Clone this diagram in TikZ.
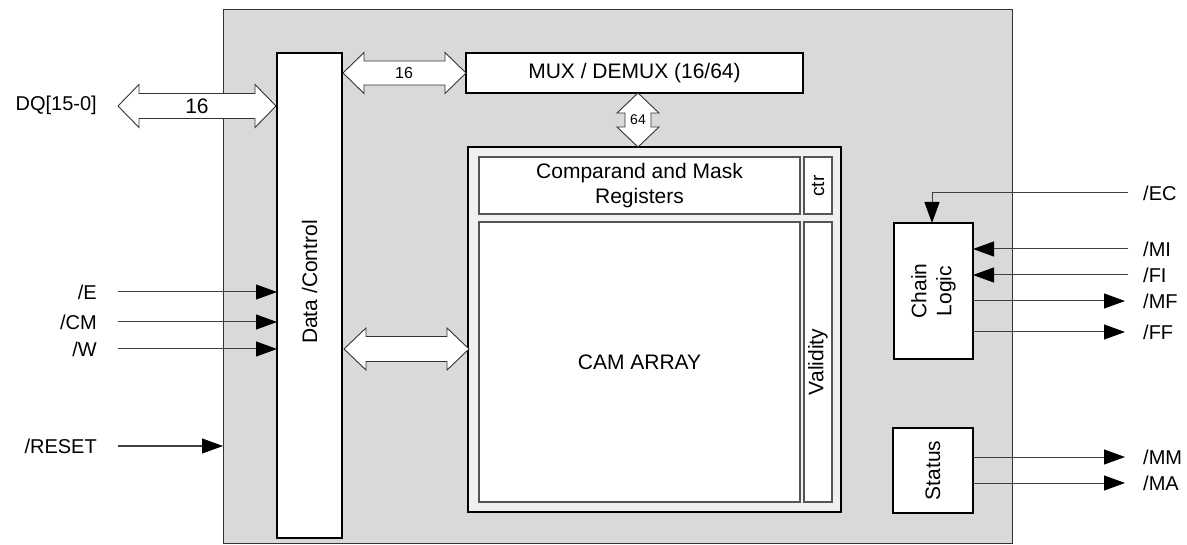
\documentclass[tikz,border=0pt]{standalone}
\usepackage{fontspec}
\setmainfont{Liberation Sans}
\usetikzlibrary{arrows.meta}
\definecolor{bggray}{HTML}{D9D9D9}
\definecolor{camfill}{HTML}{F0F0F0}
\definecolor{sigline}{HTML}{404040}
\definecolor{innerline}{HTML}{555555}
\newcommand{\harrow}[6]{% x1 x2 y shafthalf headhalf headlen
  \draw[busarrow] (#1,#3) -- (#1+#6,#3-#5) -- (#1+#6,#3-#4) -- (#2-#6,#3-#4) -- (#2-#6,#3-#5) -- (#2,#3)
    -- (#2-#6,#3+#5) -- (#2-#6,#3+#4) -- (#1+#6,#3+#4) -- (#1+#6,#3+#5) -- cycle;}
\newcommand{\varrow}[6]{% y1 y2 x shafthalf headhalf headlen
  \draw[busarrow] (#3,#1) -- (#3+#5,#1+#6) -- (#3+#4,#1+#6) -- (#3+#4,#2-#6) -- (#3+#5,#2-#6) -- (#3,#2)
    -- (#3-#5,#2-#6) -- (#3-#4,#2-#6) -- (#3-#4,#1+#6) -- (#3-#5,#1+#6) -- cycle;}
\tikzset{
  blockbox/.style={draw=black, line width=1.5pt, fill=white},
  innerbox/.style={draw=innerline, line width=1.4pt, fill=white},
  busarrow/.style={draw=black!80, line width=0.9pt, fill=white, line join=miter},
  sig/.style={draw=sigline, line width=1pt, -{Triangle[length=21pt,width=15pt,color=black]}},
  lbl/.style={font=\fontsize{20}{24}\selectfont, inner sep=0pt},
  boxtxt/.style={font=\fontsize{21}{25}\selectfont, align=center, inner sep=0pt},
}
\begin{document}
\begin{tikzpicture}[x=1pt,y=-1pt]
\useasboundingbox (0,0) rectangle (1187,545);
% background chip
\draw[fill=bggray, draw=black!80, line width=1pt] (223,10) rectangle (1012,543);
\coordinate (chipW) at (223,446);
% blocks
\draw[blockbox] (277,53) rectangle (342,538);
\node[boxtxt, rotate=90] (dc) at (309.5,282) {Data /Control};
\draw[blockbox] (466,53) rectangle (803,93);
\node[boxtxt] (mux) at (634.5,73) {MUX / DEMUX (16/64)};
% CAM
\draw[fill=camfill, draw=black, line width=2pt] (468,147) rectangle (841,512);
\draw[innerbox] (479,157) rectangle (800,214);
\node[boxtxt] (cmp) at (639.5,186) {Comparand and Mask\\Registers};
\draw[innerbox] (804,157) rectangle (832,214);
\node[boxtxt, font=\fontsize{19}{22}\selectfont, rotate=90] (ctr) at (818,186) {ctr};
\draw[innerbox] (479,222) rectangle (800,502);
\node[boxtxt] (cam) at (639.5,362) {CAM ARRAY};
\draw[innerbox] (804,222) rectangle (832,502);
\node[boxtxt, rotate=90] (val) at (818,362) {Validity};
% chain logic & status
\draw[blockbox] (894,223) rectangle (973,359);
\node[boxtxt, rotate=90] (chain) at (933.5,291) {Chain\\Logic};
\draw[blockbox] (893,428) rectangle (973,513);
\node[boxtxt, rotate=90] (status) at (933,470.5) {Status};
% bus arrows
\harrow{118}{276}{106}{12.5}{21.5}{21}
\node[font=\fontsize{21}{25}\selectfont, inner sep=0pt] (b16a) at (197,106) {16};
\node[lbl, anchor=east] (dq) at (97,105) {DQ[15-0]};
\harrow{343}{466}{73}{12}{20.5}{21}
\node[font=\fontsize{16}{19}\selectfont, inner sep=0pt] (b16b) at (404,73) {16};
\varrow{93}{147}{638}{13}{21}{20}
\node[font=\fontsize{14}{17}\selectfont, inner sep=0pt] (b64) at (638,120) {64};
\harrow{344}{469}{349}{12.5}{21}{22}
% left signals
\foreach \y/\t/\n in {292/{/E}/e, 322/{/CM}/cm, 349/{/W}/w}{
  \node[lbl, anchor=east] (l\n) at (97,\y) {\t};
  \coordinate (s\n) at (118,\y);
  \coordinate (t\n) at (277,\y);
  \draw[sig] (s\n) -- (t\n);
}
\node[lbl, anchor=east] (lreset) at (97,446) {/RESET};
\coordinate (sreset) at (118,446);
\draw[sig] (sreset) -- (chipW);
% right signals
\node[lbl, anchor=west] (lec) at (1143,193) {/EC};
\coordinate (sec) at (1128,193);
\coordinate (tec) at (932,223);
\draw[sig] (sec) -| (tec);
\foreach \y/\t/\n in {249/{/MI}/mi, 275/{/FI}/fi}{
  \node[lbl, anchor=west] (l\n) at (1143,\y) {\t};
  \coordinate (s\n) at (1128,\y);
  \coordinate (t\n) at (973,\y);
  \draw[sig] (s\n) -- (t\n);
}
\foreach \y/\t/\n in {301/{/MF}/mf, 332/{/FF}/ff, 457/{/MM}/mm, 483/{/MA}/ma}{
  \node[lbl, anchor=west] (l\n) at (1143,\y) {\t};
  \coordinate (s\n) at (973,\y);
  \coordinate (t\n) at (1125,\y);
  \draw[sig] (s\n) -- (t\n);
}
\end{tikzpicture}
\end{document}
